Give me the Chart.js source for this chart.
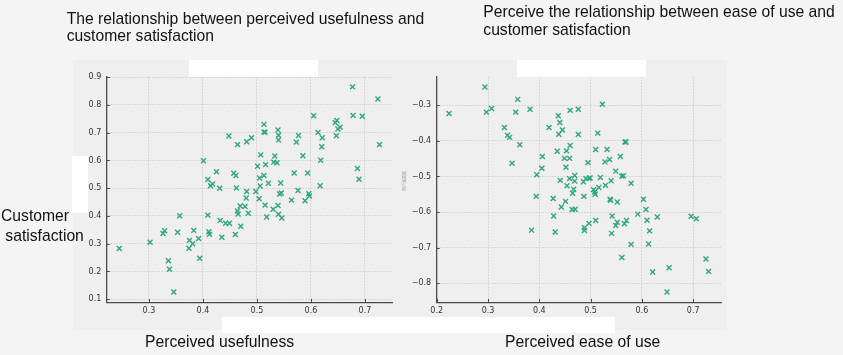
<!DOCTYPE html>
<html>
<head>
<meta charset="utf-8">
<script src="https://cdn.jsdelivr.net/npm/chart.js@4"></script>
<style>
  html, body { margin:0; padding:0; }
  body { width:843px; height:355px; background:#f4f4f4; position:relative; overflow:hidden;
         font-family:"Liberation Sans", Arial, sans-serif; color:#111; }
  .abs { position:absolute; }
  #panel { left:73px; top:60px; width:654px; height:270px; background:#efefef; }
  canvas.c { position:absolute; left:0; top:0; }
  .wbox { position:absolute; background:#ffffff; }
  .t { position:absolute; font-size:15.7px; line-height:16px; white-space:nowrap; }
  #zh { position:absolute; left:404px; top:181px; font-family:"Noto Sans CJK SC", sans-serif; font-size:4px;
        color:#9a9a9a; transform:translate(-50%,-50%) rotate(-90deg); white-space:nowrap; line-height:4px; }
</style>
</head>
<body>
<div id="panel" class="abs"></div>
<canvas id="c1" class="c" width="843" height="355"></canvas>
<canvas id="c2" class="c" width="843" height="355"></canvas>

<div class="wbox" style="left:189px;top:60px;width:129px;height:17px;"></div>
<div class="wbox" style="left:517px;top:60px;width:129px;height:17px;"></div>
<div class="wbox" style="left:72px;top:156px;width:15.5px;height:57px;"></div>
<div class="wbox" style="left:222px;top:316.7px;width:393px;height:16px;"></div>

<div class="t" style="left:66.7px;top:10.5px;">The relationship between perceived usefulness and</div>
<div class="t" style="left:66.7px;top:28px;">customer satisfaction</div>
<div class="t" style="left:483.3px;top:4.2px;">Perceive the relationship between ease of use and</div>
<div class="t" style="left:483.3px;top:22.2px;">customer satisfaction</div>
<div class="t" style="left:1px;top:207.5px;">Customer</div>
<div class="t" style="left:1px;top:227.5px;">&nbsp;satisfaction</div>
<div class="t" style="left:145px;top:333.5px;">Perceived usefulness</div>
<div class="t" style="left:505px;top:333.5px;">Perceived ease of use</div>
<div id="zh">用户满意度</div>

<script>
// ---------- data ----------
const usefulness = [0.245,0.302,0.326,0.329,0.336,0.338,0.346,0.353,0.357,0.375,0.374,0.381,0.383,0.392,0.394,
  0.401,0.409,0.409,0.411,0.412,0.414,0.418,0.425,0.431,0.432,0.435,0.442,0.448,0.449,0.457,0.461,0.462,0.460,
  0.464,0.464,0.465,0.470,0.469,0.478,0.480,0.481,0.484,0.481,0.490,0.498,0.501,0.505,0.504,0.506,0.507,0.513,
  0.513,0.515,0.513,0.516,0.515,0.518,0.521,0.530,0.533,0.531,0.537,0.539,0.540,0.540,0.539,0.540,0.542,0.545,
  0.544,0.546,0.564,0.569,0.573,0.576,0.577,0.585,0.589,0.594,0.596,0.597,0.605,0.613,0.618,0.620,0.621,0.617,
  0.645,0.648,0.650,0.654,0.647,0.677,0.678,0.695,0.686,0.689,0.724,0.727];
const satisfactionA = [0.283,0.305,0.337,0.347,0.239,0.208,0.126,0.341,0.401,0.312,0.284,0.300,0.348,0.319,0.248,
  0.599,0.531,0.403,0.343,0.334,0.509,0.515,0.559,0.500,0.384,0.323,0.374,0.688,0.374,0.554,0.546,0.501,0.333,
  0.657,0.418,0.407,0.363,0.436,0.434,0.465,0.488,0.410,0.667,0.682,0.488,0.579,0.537,0.462,0.508,0.620,0.730,
  0.702,0.702,0.546,0.585,0.439,0.396,0.518,0.424,0.616,0.594,0.592,0.710,0.691,0.674,0.438,0.406,0.479,0.483,
  0.519,0.393,0.457,0.555,0.666,0.492,0.690,0.617,0.455,0.555,0.480,0.472,0.761,0.701,0.601,0.649,0.682,0.509,
  0.737,0.744,0.713,0.720,0.689,0.865,0.762,0.759,0.571,0.532,0.821,0.657];

const easeOfUse = [0.224,0.294,0.297,0.307,0.332,0.338,0.342,0.347,0.354,0.358,0.362,0.382,0.385,0.395,0.394,
  0.405,0.406,0.419,0.427,0.428,0.431,0.435,0.437,0.438,0.440,0.441,0.443,0.445,0.449,0.459,0.452,0.451,0.453,
  0.454,0.460,0.476,0.476,0.460,0.459,0.469,0.469,0.467,0.465,0.487,0.464,0.470,0.488,0.488,0.497,0.495,0.486,
  0.491,0.497,0.499,0.506,0.508,0.509,0.510,0.514,0.510,0.516,0.519,0.523,0.528,0.529,0.532,0.537,0.538,0.539,
  0.540,0.542,0.541,0.549,0.549,0.552,0.552,0.558,0.561,0.564,0.561,0.567,0.569,0.566,0.570,0.579,0.579,0.592,
  0.603,0.608,0.610,0.615,0.613,0.621,0.630,0.649,0.653,0.696,0.706,0.725,0.730];
const satisfactionB = [-0.323,-0.248,-0.319,-0.309,-0.362,-0.384,-0.390,-0.463,-0.319,-0.283,-0.411,-0.311,-0.651,
  -0.495,-0.556,-0.477,-0.444,-0.362,-0.562,-0.611,-0.656,-0.429,-0.329,-0.381,-0.348,-0.511,-0.586,-0.369,-0.449,
  -0.449,-0.474,-0.570,-0.428,-0.526,-0.314,-0.311,-0.382,-0.413,-0.506,-0.497,-0.513,-0.536,-0.547,-0.556,-0.593,
  -0.592,-0.644,-0.652,-0.632,-0.461,-0.515,-0.506,-0.505,-0.504,-0.537,-0.544,-0.550,-0.424,-0.378,-0.624,-0.531,
  -0.503,-0.297,-0.459,-0.525,-0.424,-0.452,-0.564,-0.567,-0.512,-0.611,-0.660,-0.485,-0.638,-0.572,-0.629,-0.444,
  -0.499,-0.498,-0.728,-0.403,-0.403,-0.633,-0.624,-0.519,-0.691,-0.606,-0.564,-0.593,-0.623,-0.653,-0.690,-0.769,
  -0.614,-0.825,-0.757,-0.612,-0.619,-0.732,-0.767];

const xTicksA = [0.3,0.4,0.5,0.6,0.7];
const yTicksA = [0.1,0.2,0.3,0.4,0.5,0.6,0.7,0.8,0.9];
const xTicksB = [0.2,0.3,0.4,0.5,0.6,0.7];
const yTicksB = [-0.8,-0.7,-0.6,-0.5,-0.4,-0.3];
const xRangeA = [0.221,0.751], yRangeA = [0.089,0.902];
const xRangeB = [0.199,0.755], yRangeB = [-0.854,-0.219];

// ---------- drawing ----------
const W = 843, H = 355, YW = 40, XH = 30;
const MARK = '#2fa67f', SPINE = '#4a4a4a', LABEL = '#333333';

const inwardTicks = {
  id:'inwardTicks',
  afterDraw(chart) {
    const {ctx, chartArea:a, scales} = chart;
    ctx.save();
    ctx.strokeStyle = SPINE; ctx.lineWidth = 1;
    ctx.beginPath();
    scales.x.ticks.forEach(t => { const px = Math.round(scales.x.getPixelForValue(t.value)) + 0.5;
      ctx.moveTo(px, a.bottom); ctx.lineTo(px, a.bottom - 3.5); });
    scales.y.ticks.forEach(t => { const py = Math.round(scales.y.getPixelForValue(t.value)) + 0.5;
      ctx.moveTo(a.left, py); ctx.lineTo(a.left + 3.5, py); });
    ctx.stroke();
    ctx.restore();
  }
};

function fmt(v) {
  const s = (Math.round(v*10)/10).toFixed(1);
  return s.replace('-', '\u2212');
}

function makeChart(id, xs, ys, area, xr, yr, xt, yt) {
  const pts = xs.map((x,i) => ({x, y: ys[i]}));
  return new Chart(document.getElementById(id), {
    type:'scatter',
    data:{ datasets:[{ data:pts, pointStyle:'crossRot', pointRadius:3.5, pointBorderWidth:1.4,
      borderColor:MARK, backgroundColor:MARK, pointBorderColor:MARK }] },
    options:{
      responsive:false, animation:false, devicePixelRatio:1, events:[],
      layout:{ padding:{ left: area.left - YW, right: W - area.right, top: area.top, bottom: H - area.bottom - XH } },
      plugins:{ legend:{display:false}, tooltip:{enabled:false}, title:{display:false} },
      scales:{
        x:{ type:'linear', min:xr[0], max:xr[1],
          afterBuildTicks: s => { s.ticks = xt.map(v => ({value:v})); },
          afterFit: s => { s.height = XH; },
          grid:{ color:'#c6c6c6', lineWidth:0.8, drawTicks:false },
          border:{ display:true, color:SPINE, width:1.3, dash:[1.5,1.5] },
          ticks:{ padding:4, color:LABEL, font:{family:'DejaVu Sans', size:8}, callback: v => fmt(v),
            maxRotation:0, autoSkip:false }
        },
        y:{ type:'linear', min:yr[0], max:yr[1],
          afterBuildTicks: s => { s.ticks = yt.map(v => ({value:v})); },
          afterFit: s => { s.width = YW; },
          grid:{ color:'#c6c6c6', lineWidth:0.8, drawTicks:false },
          border:{ display:true, color:SPINE, width:1.3, dash:[1.5,1.5] },
          ticks:{ padding:5, color:LABEL, font:{family:'DejaVu Sans', size:8}, callback: v => fmt(v), autoSkip:false }
        }
      }
    },
    plugins:[inwardTicks]
  });
}

makeChart('c1', usefulness, satisfactionA, {left:106.3, right:392.5, top:76.6, bottom:302.3},
  xRangeA, yRangeA, xTicksA, yTicksA);
makeChart('c2', easeOfUse, satisfactionB, {left:436.2, right:721.4, top:76.6, bottom:302.3},
  xRangeB, yRangeB, xTicksB, yTicksB);
</script>
</body>
</html>
